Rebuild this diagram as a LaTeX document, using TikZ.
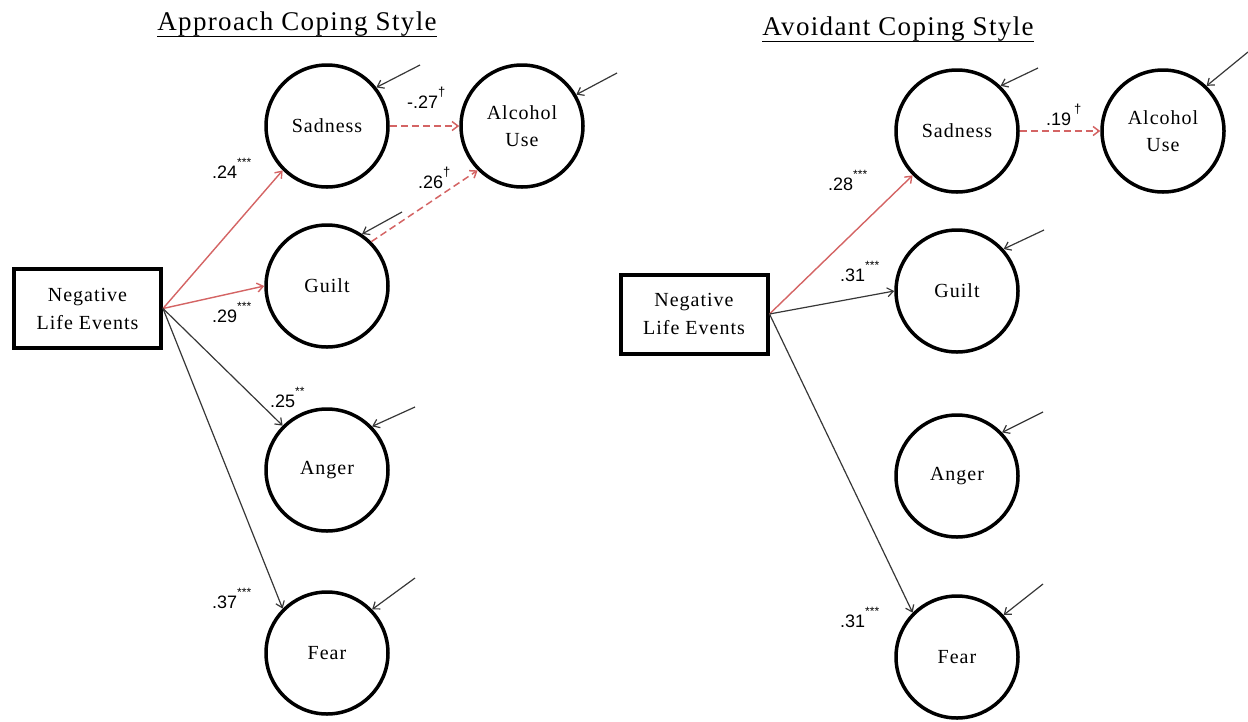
\documentclass[tikz,border=0pt]{standalone}
\usepackage{fontspec}
\setmainfont{Liberation Serif}[LetterSpace=5]
\newfontfamily\numfont{Liberation Sans}
\usetikzlibrary{arrows.meta}
\definecolor{pathred}{RGB}{212,100,100}
\definecolor{pathgray}{RGB}{55,55,55}
\newcommand\sigstar[1]{\raisebox{12pt}{\fontsize{12}{12}\selectfont #1}}
\newcommand\sigdag{\raisebox{12pt}{\fontsize{13}{13}\selectfont †}}
\begin{document}
\begin{tikzpicture}[x=1pt,y=-1pt,
  latent/.style={circle,draw,line width=3.5pt,minimum size=122pt,inner sep=0pt,align=center,font=\rmfamily\fontsize{20}{27}\selectfont},
  observed/.style={rectangle,draw,line width=4pt,minimum width=147pt,minimum height=79pt,inner sep=0pt,align=center,font=\rmfamily\fontsize{20}{28}\selectfont},
  coef/.style={anchor=base west,inner sep=0pt,font=\numfont\fontsize{18}{18}\selectfont},
  title/.style={anchor=base,inner sep=0pt,font=\rmfamily\fontsize{27}{30}\selectfont},
  tip/.style={-{Straight Barb[length=6pt,width=9pt]}},
  pathblack/.style={draw=pathgray,line width=1.2pt,tip},
  pathredsolid/.style={draw=pathred,line width=1.4pt,tip},
  pathreddash/.style={draw=pathred,line width=1.5pt,dash pattern=on 7pt off 4pt,tip},
  disturb/.style={draw=pathgray,line width=1.2pt,tip},
  uline/.style={line width=1.4pt},
]
\useasboundingbox (0,0) rectangle (1248,721);

% ---------- Left: Approach ----------
\node[title] (tL) at (297,30) {Approach Coping Style};
\draw[uline] ([yshift=-0.5pt]tL.south west) -- ([yshift=-0.5pt]tL.south east);

\node[observed] (negL) at (87.5,308.5) {Negative\\Life Events};
\node[latent] (sadL) at (327,126) {Sadness};
\node[latent] (alcL) at (522,126) {Alcohol\\Use};
\node[latent] (guiL) at (327,286) {Guilt};
\node[latent] (angL) at (327,470) {Anger};
\node[latent] (feaL) at (327,653) {Fear};

\draw[pathredsolid] (negL.east) -- (sadL.225);
\draw[pathredsolid] (negL.east) -- (guiL.180);
\draw[pathblack] (negL.east) -- (angL.135);
\draw[pathblack] (negL.east) -- (feaL.135);
\draw[pathreddash] (sadL.east) -- (alcL.west);
\draw[pathreddash] (guiL.45) -- (alcL.225);

\coordinate (dSadL) at (420,65);
\coordinate (dAlcL) at (617,73);
\coordinate (dGuiL) at (402,212);
\coordinate (dAngL) at (415,407);
\coordinate (dFeaL) at (415,578);
\draw[disturb] (dSadL) -- (sadL.38);
\draw[disturb] (dAlcL) -- (alcL.30);
\draw[disturb] (dGuiL) -- (guiL.56);
\draw[disturb] (dAngL) -- (angL.44);
\draw[disturb] (dFeaL) -- (feaL.44);

\node[coef] (c24) at (212,178) {.24\sigstar{***}};
\node[coef] (c29) at (212,322) {.29\sigstar{***}};
\node[coef] (c25) at (270,407) {.25\sigstar{**}};
\node[coef] (c37) at (212,608) {.37\sigstar{***}};
\node[coef] (c27) at (407,108) {-.27\sigdag};
\node[coef] (c26) at (418,188) {.26\sigdag};

% ---------- Right: Avoidant ----------
\node[title] (tR) at (898,35) {Avoidant Coping Style};
\draw[uline] ([yshift=-0.5pt]tR.south west) -- ([yshift=-0.5pt]tR.south east);

\node[observed] (negR) at (694,314) {Negative\\Life Events};
\node[latent] (sadR) at (957,131) {Sadness};
\node[latent] (alcR) at (1163,131) {Alcohol\\Use};
\node[latent] (guiR) at (957,291) {Guilt};
\node[latent] (angR) at (957,476) {Anger};
\node[latent] (feaR) at (957,657) {Fear};

\draw[pathredsolid] (negR.east) -- (sadR.225);
\draw[pathblack] (negR.east) -- (guiR.180);
\draw[pathblack] (negR.east) -- (feaR.135);
\draw[pathreddash] (sadR.east) -- (alcR.west);

\coordinate (dSadR) at (1038,68);
\coordinate (dAlcR) at (1248,52);
\coordinate (dGuiR) at (1044,230);
\coordinate (dAngR) at (1043,412);
\coordinate (dFeaR) at (1043,584);
\draw[disturb] (dSadR) -- (sadR.46);
\draw[disturb] (dAlcR) -- (alcR.46);
\draw[disturb] (dGuiR) -- (guiR.42);
\draw[disturb] (dAngR) -- (angR.44);
\draw[disturb] (dFeaR) -- (feaR.42);

\node[coef] (c28) at (828,190) {.28\sigstar{***}};
\node[coef] (c31a) at (840,281) {.31\sigstar{***}};
\node[coef] (c19) at (1046,125) {.19\,\sigdag};
\node[coef] (c31b) at (840,627) {.31\sigstar{***}};
\end{tikzpicture}
\end{document}
